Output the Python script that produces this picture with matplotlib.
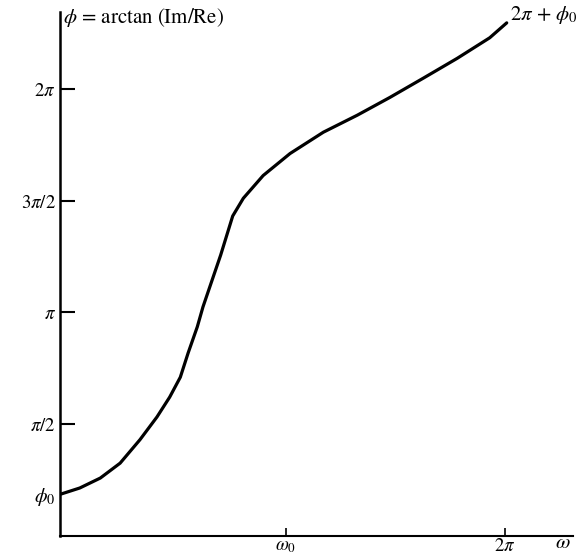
import numpy as np
import matplotlib
matplotlib.use('Agg')
import matplotlib.pyplot as plt

matplotlib.rcParams['mathtext.fontset'] = 'stix'
matplotlib.rcParams['font.family'] = ['STIXGeneral', 'DejaVu Serif']

# curve (omega in rad, phase in rad)
omega = [0.0, 0.28, 0.57, 0.85, 1.13, 1.37, 1.55, 1.70, 1.81, 1.94, 2.02,
         2.15, 2.27, 2.44, 2.59, 2.87, 3.25, 3.72, 4.20, 4.66, 5.13, 5.61,
         6.07, 6.31]
phase = [0.58, 0.67, 0.81, 1.02, 1.35, 1.67, 1.95, 2.23, 2.57, 2.94, 3.22,
         3.60, 3.95, 4.50, 4.75, 5.07, 5.38, 5.68, 5.92, 6.17, 6.44, 6.72,
         7.01, 7.22]

phi0 = 0.58
omega0 = 3.19
y_ticks = [np.pi / 2, np.pi, 3 * np.pi / 2, 2 * np.pi]
y_labels = [r'$\pi/2$', r'$\pi$', r'$3\pi/2$', r'$2\pi$']
x_ticks = [omega0, 2 * np.pi]
x_labels = [r'$\omega_0$', r'$2\pi$']

fig = plt.figure(figsize=(5.82, 5.55), dpi=100)
ax = fig.add_axes([0.103, 0.035, 0.882, 0.943])

ax.plot(omega, phase, color='black', lw=2.3, solid_capstyle='round',
        solid_joinstyle='round')

ax.set_xlim(0, 7.25)
ax.set_ylim(0, 7.37)
for s in ['top', 'right']:
    ax.spines[s].set_visible(False)
ax.spines['left'].set_linewidth(1.8)
ax.spines['bottom'].set_linewidth(1.5)

ax.set_yticks(y_ticks)
ax.set_yticklabels(y_labels, fontsize=13.5)
ax.set_xticks(x_ticks)
ax.set_xticklabels(x_labels, fontsize=13.5)
ax.tick_params(axis='y', direction='in', length=11, width=1.5, pad=3)
ax.tick_params(axis='x', direction='in', length=6, width=1.2, pad=2)

# phi_0 label on the y axis without a tick mark
ax.set_yticks([phi0], minor=True)
ax.set_yticklabels([r'$\phi_0$'], minor=True, fontsize=14.5)
ax.tick_params(axis='y', which='minor', length=0, pad=3)

ax.text(0.04, 7.3, r'$\phi$ = arctan (Im/Re)', fontsize=15, va='center', ha='left')
ax.text(6.36, 7.33, r'$2\pi$ + $\phi_0$', fontsize=15, va='center', ha='left')
ax.text(7.1, -0.1, r'$\omega$', fontsize=15, va='center', ha='center', clip_on=False)

fig.savefig('out.png', dpi=100)
